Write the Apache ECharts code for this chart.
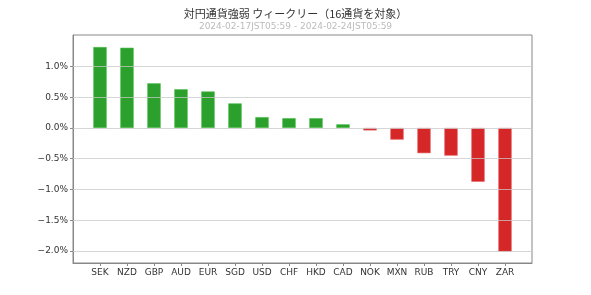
<!DOCTYPE html>
<html>
<head>
<meta charset="utf-8">
<script src="https://cdn.jsdelivr.net/npm/echarts@6/dist/echarts.min.js"></script>
<style>html,body{margin:0;padding:0;background:#fff;}#c{width:591px;height:295px;}</style>
</head>
<body>
<div id="c"></div>
<script>
const categories = ['SEK','NZD','GBP','AUD','EUR','SGD','USD','CHF','HKD','CAD','NOK','MXN','RUB','TRY','CNY','ZAR'];
const values = [1.316, 1.305, 0.727, 0.63, 0.594, 0.40, 0.177, 0.16, 0.16, 0.06, -0.04, -0.19, -0.41, -0.45, -0.875, -2.01];
const yTicks = [-2.0, -1.5, -1.0, -0.5, 0.0, 0.5, 1.0];
const titleText = '対円通貨強弱 ウィークリー（16通貨を対象）';
const subText = '2024-02-17JST05:59 - 2024-02-24JST05:59';

const chart = echarts.init(document.getElementById('c'), null, {renderer: 'canvas'});
const fmt = v => {
  const s = Math.abs(v).toFixed(1) + '%';
  return v < -1e-9 ? '\u2212' + s : s;
};
const xIdx = categories.map((_, i) => i);
const font = '"DejaVu Sans", sans-serif';
chart.setOption({
  animation: false,
  backgroundColor: '#fff',
  title: {
    text: titleText,
    subtext: subText,
    left: 'center',
    top: 3,
    itemGap: 3,
    textStyle: {fontSize: 11, fontWeight: 'normal', color: '#333', fontFamily: '"Noto Sans CJK JP", sans-serif'},
    subtextStyle: {fontSize: 9, color: '#bbb', fontFamily: font}
  },
  grid: {left: 73, right: 59, top: 35, bottom: 32, show: true, borderColor: '#888', borderWidth: 1},
  xAxis: {
    type: 'value', min: -1, max: 16,
    splitLine: {show: false},
    axisLine: {show: true, onZero: false, lineStyle: {color: '#888'}},
    axisTick: {show: true, length: 3, customValues: xIdx, lineStyle: {color: '#888'}},
    axisLabel: {
      color: '#333', fontSize: 9, fontFamily: font, margin: 5, customValues: xIdx,
      formatter: v => (categories[v] !== undefined ? categories[v] : '')
    }
  },
  yAxis: {
    type: 'value', min: -2.195, max: 1.512,
    splitLine: {show: false},
    axisLine: {show: true, onZero: false, lineStyle: {color: '#888'}},
    axisTick: {show: true, length: 3, customValues: yTicks, lineStyle: {color: '#888'}},
    axisLabel: {color: '#333', fontSize: 9, fontFamily: font, margin: 5, customValues: yTicks, formatter: fmt}
  },
  series: [{
    type: 'bar',
    barWidth: 13.4,
    data: values.map((v, i) => ({
      value: [i, v],
      itemStyle: {color: v >= 0 ? '#2ca02c' : '#d62728', borderColor: v >= 0 ? '#4fbf4f' : '#e86a6a', borderWidth: 0.6}
    })),
    markLine: {
      silent: true, symbol: 'none', label: {show: false},
      lineStyle: {color: 'rgba(200,200,200,0.75)', type: 'solid', width: 1},
      data: yTicks.map(t => ({yAxis: t}))
    }
  }]
});
</script>
</body>
</html>
